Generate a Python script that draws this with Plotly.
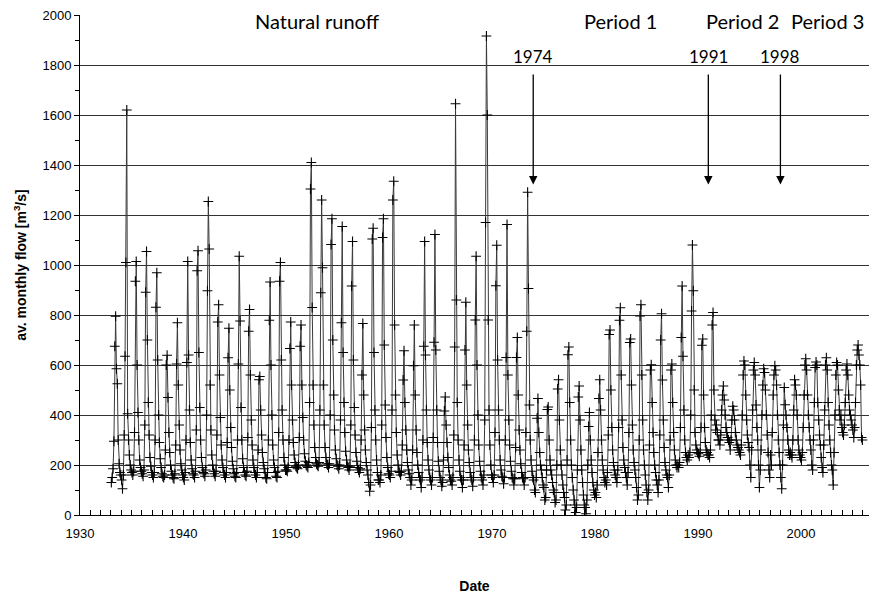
import plotly.graph_objects as go

# Average monthly flow [m3/s], Jan..Dec per year
flow_1933_1939 = [
    130, 150, 185, 295, 675, 795, 585, 525, 300, 205, 170, 160,
    140, 105, 160, 320, 635, 1010, 1620, 405, 300, 240, 200, 180,
    170, 160, 175, 330, 935, 1014, 600, 410, 300, 220, 190, 175,
    165, 155, 180, 360, 891, 1054, 700, 450, 320, 230, 195, 170,
    160, 150, 170, 300, 831, 969, 620, 400, 290, 225, 190, 165,
    155, 150, 160, 260, 600, 639, 470, 330, 250, 200, 175, 160,
    150, 145, 165, 280, 604, 769, 520, 360, 260, 205, 180, 160,
]
flow_1940_1949 = [
    150, 140, 170, 300, 610, 1014, 640, 420, 290, 220, 185, 165,
    160, 150, 175, 340, 977, 1057, 650, 430, 300, 230, 190, 170,
    165, 155, 180, 400, 897, 1254, 1064, 520, 340, 240, 200, 175,
    165, 155, 175, 320, 772, 841, 560, 390, 280, 220, 190, 170,
    160, 150, 170, 290, 629, 747, 500, 350, 270, 215, 185, 165,
    155, 150, 170, 300, 604, 1035, 776, 430, 300, 225, 190, 170,
    160, 155, 175, 310, 735, 822, 560, 380, 280, 220, 190, 170,
    160, 150, 170, 260, 541, 554, 420, 320, 250, 210, 185, 170,
    150, 145, 170, 300, 779, 932, 600, 400, 280, 220, 190, 170,
    155, 150, 175, 330, 935, 1010, 620, 420, 300, 230, 200, 180,
]
flow_1950_1959 = [
    180, 175, 190, 300, 666, 772, 520, 380, 290, 240, 210, 195,
    190, 185, 200, 310, 675, 760, 520, 390, 300, 245, 215, 200,
    195, 190, 210, 450, 1304, 1410, 830, 520, 360, 270, 230, 205,
    200, 195, 210, 420, 889, 1260, 989, 520, 360, 270, 230, 205,
    200, 190, 205, 400, 1082, 1185, 700, 480, 340, 260, 225, 200,
    195, 185, 200, 380, 769, 1154, 650, 450, 330, 255, 220, 195,
    190, 180, 195, 360, 916, 1094, 620, 430, 320, 250, 215, 190,
    180, 170, 185, 300, 560, 766, 480, 340, 260, 210, 180, 160,
    130, 95, 120, 350, 1104, 1147, 650, 420, 300, 220, 170, 140,
    140, 130, 160, 360, 1110, 1185, 680, 440, 310, 230, 190, 165,
]
flow_1960_1969 = [
    160, 150, 175, 420, 1260, 1335, 760, 480, 330, 240, 200, 175,
    170, 160, 175, 280, 540, 657, 450, 340, 260, 210, 180, 165,
    150, 120, 140, 260, 597, 760, 480, 340, 250, 200, 170, 150,
    140, 110, 150, 300, 675, 1094, 640, 420, 290, 220, 180, 150,
    140, 120, 150, 310, 691, 1122, 660, 420, 290, 215, 175, 150,
    140, 115, 130, 220, 416, 472, 360, 290, 230, 190, 160, 140,
    135, 120, 150, 320, 672, 1645, 860, 450, 300, 220, 175, 150,
    140, 110, 140, 280, 660, 851, 520, 360, 260, 210, 170, 150,
    140, 115, 150, 300, 780, 1035, 600, 400, 280, 215, 175, 150,
    140, 120, 160, 380, 1170, 1916, 1600, 780, 420, 280, 200, 160,
]
flow_1970_1979 = [
    150, 130, 160, 330, 917, 1079, 620, 420, 300, 220, 180, 155,
    150, 125, 150, 300, 630, 1162, 560, 380, 280, 215, 175, 150,
    145, 120, 145, 270, 630, 710, 480, 340, 260, 205, 170, 150,
    145, 120, 150, 330, 735, 1291, 906, 440, 300, 220, 175, 150,
    140, 100, 90, 150, 387, 466, 330, 250, 200, 180, 150, 120,
    110, 60, 70, 180, 422, 432, 300, 220, 180, 160, 130, 100,
    90, 50, 60, 200, 504, 541, 380, 260, 200, 160, 120, 90,
    70, 20, 40, 220, 641, 672, 450, 300, 200, 150, 100, 60,
    40, 10, 30, 180, 472, 516, 380, 260, 180, 130, 80, 40,
    30, 5, 60, 200, 354, 410, 300, 220, 170, 130, 100, 80,
]
flow_1980_1989 = [
    90, 70, 120, 250, 466, 541, 420, 300, 220, 180, 150, 130,
    140, 120, 170, 320, 722, 740, 500, 350, 260, 210, 180, 160,
    150, 130, 180, 350, 779, 829, 560, 380, 270, 220, 190, 170,
    150, 120, 170, 330, 690, 704, 520, 360, 260, 210, 180, 150,
    110, 60, 80, 300, 796, 841, 560, 380, 260, 200, 160, 120,
    90, 60, 100, 280, 580, 601, 450, 330, 250, 200, 170, 140,
    120, 90, 140, 320, 700, 805, 540, 380, 270, 210, 180, 160,
    150, 110, 160, 300, 580, 604, 450, 330, 260, 220, 200, 190,
    200, 190, 210, 350, 710, 916, 635, 420, 300, 250, 230, 220,
    240, 230, 250, 400, 816, 1080, 897, 500, 330, 280, 260, 250,
]
flow_1990_1999 = [
    245, 235, 250, 350, 679, 704, 480, 350, 290, 260, 250, 240,
    240, 230, 260, 400, 760, 810, 500, 380, 340, 360, 330, 300,
    300, 280, 320, 420, 480, 516, 460, 400, 350, 330, 310, 300,
    290, 260, 300, 380, 435, 420, 380, 330, 300, 280, 270, 260,
    250, 240, 280, 400, 560, 616, 600, 480, 380, 320, 290, 270,
    200, 150, 260, 420, 580, 610, 560, 440, 350, 300, 200, 110,
    180, 260, 400, 520, 585, 570, 500, 400, 320, 250, 180, 150,
    240, 200, 330, 480, 560, 597, 580, 520, 400, 300, 250, 200,
    150, 105, 200, 360, 510, 441, 400, 350, 300, 260, 240, 250,
    240, 230, 300, 420, 541, 520, 480, 400, 300, 260, 240, 230,
]
flow_2000_2005 = [
    220, 250, 350, 480, 600, 625, 580, 480, 400, 350, 300, 260,
    200, 180, 300, 450, 590, 612, 600, 450, 380, 320, 280, 230,
    190, 170, 280, 420, 600, 629, 580, 450, 360, 300, 250, 200,
    180, 120, 250, 400, 560, 610, 600, 500, 420, 380, 400, 350,
    330, 320, 360, 450, 580, 604, 560, 480, 420, 400, 380, 360,
    340, 310, 350, 450, 600, 660, 680, 640, 600, 520, 310, 300,
]
start_year = 1933

# Annotation texts and positions
period_labels = ["Natural runoff", "Period 1", "Period 2", "Period 3"]
period_x = [1953.1, 1982.5, 1994.3, 2002.6]
arrow_labels = ["1974", "1991", "1998"]
arrow_x = [1974.0, 1991.0, 1998.0]

flow = (flow_1933_1939 + flow_1940_1949 + flow_1950_1959 + flow_1960_1969
        + flow_1970_1979 + flow_1980_1989 + flow_1990_1999 + flow_2000_2005)
dates = [start_year + (i + 0.5) / 12 for i in range(len(flow))]

fig = go.Figure()
fig.add_trace(go.Scatter(
    x=dates, y=flow, mode="lines+markers",
    line=dict(color="#3a3a3a", width=1),
    marker=dict(symbol="cross-thin", size=7, line=dict(color="black", width=1.1), color="black"),
    showlegend=False, hoverinfo="skip",
))

annotations = []
for t, x in zip(period_labels, period_x):
    annotations.append(dict(x=x, y=1975, xref="x", yref="y", text=t, showarrow=False,
                            font=dict(family="Lato", size=20, color="black"),
                            xanchor="center", yanchor="middle"))
for t, x in zip(arrow_labels, arrow_x):
    annotations.append(dict(x=x, y=1836, xref="x", yref="y", text=t, showarrow=False,
                            font=dict(family="Lato", size=17, color="black"),
                            xanchor="center", yanchor="middle"))
    annotations.append(dict(x=x, y=1322, ax=x, ay=1768, xref="x", yref="y",
                            axref="x", ayref="y", text="", showarrow=True,
                            arrowhead=2, arrowsize=1.3, arrowwidth=1.3, arrowcolor="black"))

fig.update_layout(
    width=872, height=601,
    margin=dict(l=80, r=3, t=15, b=86),
    paper_bgcolor="white", plot_bgcolor="white",
    font=dict(family="Liberation Sans", size=13, color="black"),
    annotations=annotations,
)
fig.update_xaxes(
    range=[1930, 2006.6], tickmode="linear", tick0=1930, dtick=10,
    ticks="inside", ticklen=5, tickcolor="black", showgrid=False,
    showline=True, linecolor="black", linewidth=1, automargin=False,
    ticklabelstandoff=6,
    minor=dict(dtick=1, tick0=1930, ticks="inside", ticklen=5, tickcolor="black", showgrid=False),
    title=dict(text="<b>Date</b>", font=dict(family="Liberation Sans", size=14), standoff=41),
    zeroline=False,
)
fig.update_yaxes(
    range=[0, 2000], tickmode="linear", tick0=0, dtick=200,
    ticks="outside", ticklen=5, tickcolor="black",
    showgrid=True, gridcolor="#333333", gridwidth=1,
    showline=True, linecolor="black", linewidth=1, automargin=False,
    minor=dict(dtick=100, ticks="outside", ticklen=4, tickcolor="black", showgrid=False),
    title=dict(text="<b>av. monthly flow [m<sup>3</sup>/s]</b>", font=dict(family="Liberation Sans", size=14), standoff=12),
    zeroline=False,
)

fig.write_html("out.html", config={"displayModeBar": False},
               post_script="document.body.style.margin='0';document.body.style.overflow='hidden';")
